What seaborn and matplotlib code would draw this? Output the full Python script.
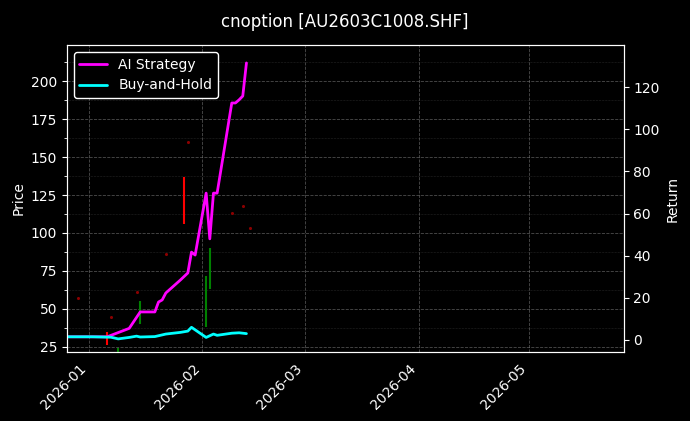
import pandas as pd
import numpy as np
import matplotlib.pyplot as plt
import matplotlib.dates as mdates
import seaborn as sns
from matplotlib.ticker import AutoMinorLocator

sns.set_style('dark')
plt.style.use('dark_background')
plt.rcParams['font.family'] = ['DejaVu Sans']

strat_dates = ['2025-12-26', '2025-12-31', '2026-01-06', '2026-01-12', '2026-01-15', '2026-01-19',
               '2026-01-20', '2026-01-21', '2026-01-22', '2026-01-26', '2026-01-28', '2026-01-29',
               '2026-01-30', '2026-02-02', '2026-02-03', '2026-02-04', '2026-02-05', '2026-02-09',
               '2026-02-10', '2026-02-11', '2026-02-12', '2026-02-13']
strat_ret = [1.5, 1.5, 1.5, 5.5, 13.3, 13.3, 18.0, 19.0, 22.3, 28.5, 31.8, 41.7, 40.3,
             69.7, 48.0, 69.7, 69.7, 112.5, 112.5, 114.0, 115.8, 131.5]
bh_dates = ['2025-12-26', '2026-01-02', '2026-01-07', '2026-01-09', '2026-01-12', '2026-01-14',
            '2026-01-15', '2026-01-19', '2026-01-22', '2026-01-26', '2026-01-28', '2026-01-29',
            '2026-02-02', '2026-02-04', '2026-02-05', '2026-02-09', '2026-02-11', '2026-02-13']
bh_ret = [1.5, 1.5, 1.3, 0.5, 1.2, 1.8, 1.4, 1.6, 2.8, 3.6, 4.2, 6.0, 1.2, 2.8, 2.2, 3.2, 3.4, 3.0]

candle_dates = ['2026-01-06', '2026-01-09', '2026-01-15', '2026-01-27', '2026-02-02', '2026-02-03']
candle_open = [35, 20, 40, 137, 38, 63]
candle_close = [26, 24, 55, 106, 72, 90]
dot_dates = ['2025-12-29', '2026-01-07', '2026-01-14', '2026-01-22', '2026-01-28', '2026-02-09', '2026-02-12', '2026-02-14']
dot_price = [57, 45, 61, 86, 160, 113, 118, 103]

fig, ax = plt.subplots(figsize=(6.9, 4.21), dpi=100)
fig.patch.set_facecolor('black')
ax.set_facecolor('black')

cd = pd.to_datetime(candle_dates)
for d, o, c in zip(cd, candle_open, candle_close):
    col = 'red' if c < o else 'green'
    ax.vlines(d, min(o, c), max(o, c), color=col, lw=1.5)
ax.scatter(pd.to_datetime(dot_dates), dot_price, s=1.5, color='darkred')
ax.set_ylim(21.7, 223.7)
ax.set_ylabel('Price')
ax.set_yticks(np.arange(25, 201, 25))

ax2 = ax.twinx()
sns.lineplot(x=pd.to_datetime(strat_dates), y=strat_ret, ax=ax2, color='magenta', lw=2, label='AI Strategy')
sns.lineplot(x=pd.to_datetime(bh_dates), y=bh_ret, ax=ax2, color='cyan', lw=2, label='Buy-and-Hold')
ax2.set_ylim(-5.7, 140)
ax2.set_yticks(np.arange(0, 121, 20))
ax2.set_ylabel('Return')
ax2.legend(loc='upper left', facecolor='black', edgecolor='white', framealpha=1)

ax.set_xlim(pd.Timestamp('2025-12-26'), pd.Timestamp('2026-05-27'))
ax.xaxis.set_major_locator(mdates.MonthLocator())
ax.xaxis.set_major_formatter(mdates.DateFormatter('%Y-%m'))
ax.yaxis.set_minor_locator(AutoMinorLocator(2))
ax.grid(True, which='major', ls='--', color='grey', lw=0.6, alpha=0.6)
ax.grid(True, which='minor', axis='y', ls=':', color='grey', lw=0.4, alpha=0.5)
plt.setp(ax.get_xticklabels(), rotation=45, ha='right')

fig.suptitle('cnoption [AU2603C1008.SHF]', y=0.97)
plt.subplots_adjust(left=0.097, right=0.904, top=0.893, bottom=0.164)
plt.savefig('out.png', dpi=100)
